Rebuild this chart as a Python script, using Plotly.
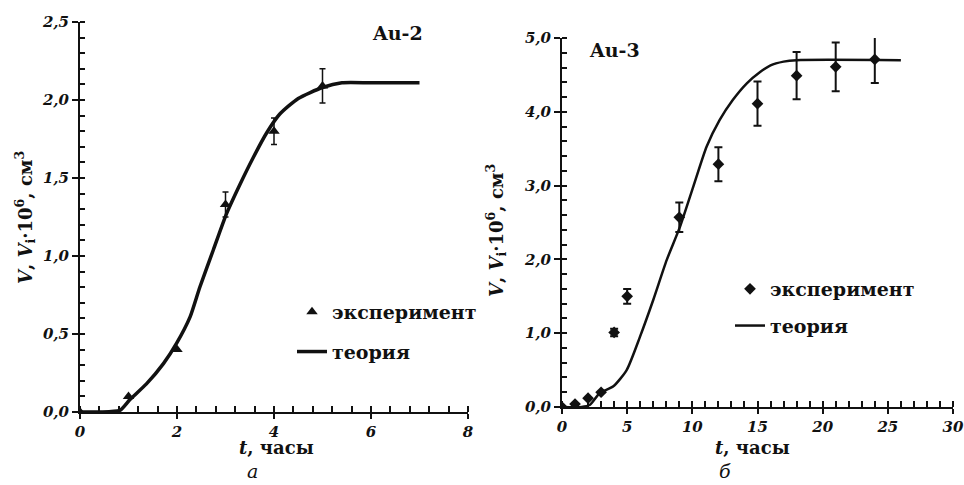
import plotly.graph_objects as go

# Au-2 (panel a)
t_exp_a = [0, 1, 2, 3, 4, 5]
v_exp_a = [0.0, 0.10, 0.40, 1.33, 1.80, 2.09]
err_a = [0, 0, 0, 0.08, 0.085, 0.11]
t_th_a = [0, 0.4, 0.82, 1.03, 1.37, 1.72, 1.99, 2.27, 2.47, 2.75, 3.02, 3.30, 3.57, 3.85, 4.12, 4.5, 5.0, 5.4, 6.0, 7.0]
v_th_a = [0.0, 0.0, 0.01, 0.08, 0.18, 0.31, 0.44, 0.61, 0.80, 1.04, 1.27, 1.46, 1.63, 1.79, 1.91, 2.01, 2.08, 2.11, 2.11, 2.11]

# Au-3 (panel б)
t_exp_b = [0, 1, 2, 3, 4, 5, 9, 12, 15, 18, 21, 24]
v_exp_b = [0.0, 0.04, 0.12, 0.20, 1.01, 1.50, 2.57, 3.29, 4.11, 4.49, 4.61, 4.71]
err_b = [0, 0, 0, 0, 0.05, 0.10, 0.20, 0.23, 0.30, 0.32, 0.33, 0.32]
t_th_b = [0, 1.5, 2.15, 2.9, 3.94, 4.96, 5.98, 7.0, 8.03, 9.05, 10.08, 11.1, 12.1, 13.1, 14.2, 15.2, 16, 17, 18, 26]
v_th_b = [0.0, 0.0, 0.03, 0.19, 0.28, 0.50, 0.95, 1.45, 1.99, 2.44, 2.99, 3.53, 3.89, 4.16, 4.39, 4.54, 4.63, 4.68, 4.70, 4.70]

FONT = "DejaVu Serif"
BLACK = "#111111"

fig = go.Figure()

fig.add_trace(go.Scatter(x=t_exp_a, y=v_exp_a, mode="markers", name="эксперимент",
                         marker=dict(symbol="triangle-up", size=10, color=BLACK),
                         error_y=dict(type="data", array=err_a, color=BLACK, thickness=1.5, width=3),
                         xaxis="x", yaxis="y", legend="legend", legendgroup="a1"))
fig.add_trace(go.Scatter(x=t_th_a, y=v_th_a, mode="lines", name="теория",
                         line=dict(color=BLACK, width=3.5, shape="spline", smoothing=0.6),
                         xaxis="x", yaxis="y", legend="legend", legendgroup="a2"))

fig.add_trace(go.Scatter(x=t_exp_b, y=v_exp_b, mode="markers", name="эксперимент",
                         marker=dict(symbol="diamond", size=9, color=BLACK),
                         error_y=dict(type="data", array=err_b, color=BLACK, thickness=2, width=4),
                         xaxis="x2", yaxis="y2", legend="legend2", legendgroup="b1"))
fig.add_trace(go.Scatter(x=t_th_b, y=v_th_b, mode="lines", name="теория",
                         line=dict(color=BLACK, width=2.5, shape="spline", smoothing=0.6),
                         xaxis="x2", yaxis="y2", legend="legend2", legendgroup="b2"))

tickfont = dict(family=FONT, size=15, color=BLACK, weight="bold", style="italic")

def axis(domain, rng, dtick, mdtick, anchor, tl, mtl, fmt=None):
    d = dict(domain=domain, range=rng, dtick=dtick, ticks="outside", ticklen=tl,
             tickwidth=2, tickcolor=BLACK, showline=True, linewidth=2, linecolor=BLACK,
             showgrid=True, gridcolor="rgba(0,0,0,0)", zeroline=False, tickfont=tickfont,
             anchor=anchor, fixedrange=True,
             minor=dict(dtick=mdtick, ticks="inside", ticklen=mtl, tickwidth=2, tickcolor=BLACK))
    if fmt:
        d["tickformat"] = fmt
    return d

H = 485.0
W = 964.0
legfont = dict(family=FONT, size=19, weight="bold", color=BLACK)
fig.update_layout(
    width=964, height=485,
    margin=dict(l=0, r=0, t=0, b=0, autoexpand=False),
    paper_bgcolor="white", plot_bgcolor="white",
    separators=", ",
    font=dict(family=FONT, color=BLACK),
    xaxis=axis([80 / W, 468 / W], [0, 8], 2, 0.4, "y", 5, 6),
    yaxis=axis([(H - 412) / H, (H - 22) / H], [0, 2.5], 0.5, 0.1, "x", 6, 5, ".1f"),
    xaxis2=axis([562 / W, 953 / W], [0, 30], 5, 1, "y2", 5, 6),
    yaxis2=axis([(H - 407) / H, (H - 38) / H], [0, 5], 1, 0.2, "x2", 6, 5, ".1f"),
    legend=dict(x=292 / W, y=(H - 293) / H, xanchor="left", yanchor="top",
                bgcolor="rgba(0,0,0,0)", font=legfont, tracegroupgap=12, itemwidth=30),
    legend2=dict(x=730 / W, y=(H - 270) / H, xanchor="left", yanchor="top",
                 bgcolor="rgba(0,0,0,0)", font=legfont, tracegroupgap=9, itemwidth=30),
    showlegend=True,
)

ytitle = "<i>V</i>, <i>V</i><sub>i</sub>·10<sup>6</sup>, см<sup>3</sup>"
ann_font = dict(family=FONT, size=18, color=BLACK, weight="bold")

def ann(x, y, text, font, angle=0):
    fig.add_annotation(x=x / W, y=(H - y) / H, xref="paper", yref="paper", text=text,
                       showarrow=False, font=font, textangle=angle,
                       xanchor="center", yanchor="middle")

ann(397, 33, "Au-2", dict(family=FONT, size=19, color=BLACK, weight="bold"))
ann(614, 50, "Au-3", dict(family=FONT, size=19, color=BLACK, weight="bold"))
ann(25, 218, ytitle, ann_font, -90)
ann(496, 230, ytitle, ann_font, -90)
ann(276, 447, "<i>t</i>, часы", ann_font)
ann(752, 447, "<i>t</i>, часы", ann_font)
ann(252, 471, "<i>а</i>", dict(family=FONT, size=19, color=BLACK))
ann(725, 471, "<i>б</i>", dict(family=FONT, size=19, color=BLACK))

fig.write_html("out.html", config={"displayModeBar": False},
               post_script="document.body.style.margin='0px';")
